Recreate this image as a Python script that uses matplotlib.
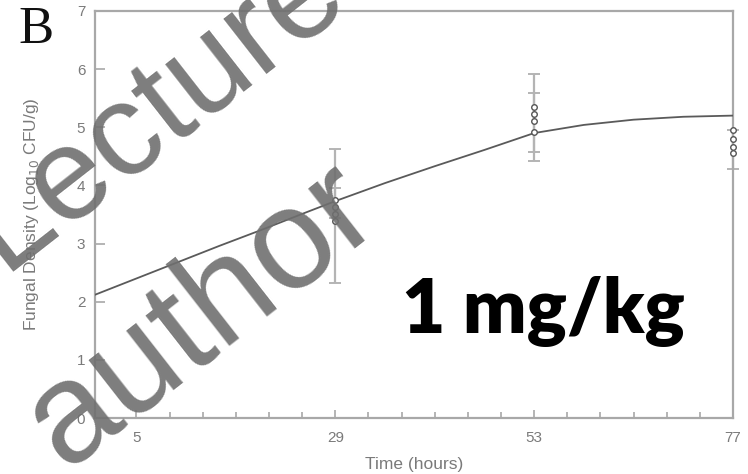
import matplotlib.pyplot as plt
from matplotlib.ticker import FixedLocator

# model fit curve (hours, log10 CFU/g)
curve_t = [0, 5, 10, 15, 20, 25, 29, 35, 41, 47, 53, 59, 65, 71, 77]
curve_y = [2.12, 2.40, 2.68, 2.96, 3.23, 3.51, 3.73, 4.04, 4.33, 4.61, 4.90, 5.04, 5.13, 5.18, 5.20]

# observed fungal density per animal
obs_t = [29, 29, 29, 29, 53, 53, 53, 53, 77, 77, 77, 77]
obs_y = [3.75, 3.63, 3.51, 3.39, 5.35, 5.22, 5.10, 4.91, 4.95, 4.80, 4.66, 4.55]

# error bars: time, mean, half-width
err_t = [29, 29, 53, 53, 77]
err_mean = [3.47, 3.70, 5.17, 5.08, 4.62]
err_sd = [1.15, 0.26, 0.75, 0.50, 0.34]

major_x = [5, 29, 53, 77]
minor_x = [9, 13, 17, 21, 25, 33, 37, 41, 45, 49, 57, 61, 65, 69, 73]
y_ticks = [0, 1, 2, 3, 4, 5, 6, 7]

axis_grey = '#a8a8a8'
label_grey = '#7a7a7a'

fig = plt.figure(figsize=(7.48, 4.74), dpi=100)
ax = fig.add_axes([0.127, 0.118, 0.853, 0.859])

ax.errorbar(err_t, err_mean, yerr=err_sd, fmt='none', ecolor='#b4b4b4',
            elinewidth=1.6, capsize=4, capthick=1.4, clip_on=False, zorder=2)
ax.plot(curve_t, curve_y, color='#5a5a5a', lw=1.3, zorder=3)
ax.plot(obs_t, obs_y, 'o', ms=4, mfc='white', mec='#555555', mew=1,
        clip_on=False, zorder=4)

ax.set_xlim(0, 77)
ax.set_ylim(0, 7)
ax.xaxis.set_major_locator(FixedLocator(major_x))
ax.xaxis.set_minor_locator(FixedLocator(minor_x))
ax.set_yticks(y_ticks)

for s in ax.spines.values():
    s.set_color(axis_grey)
    s.set_linewidth(1.6)

ax.tick_params(axis='both', which='major', direction='in', length=7, width=1.2,
               color=axis_grey, labelcolor=label_grey, labelsize=11)
ax.tick_params(axis='x', which='minor', direction='in', length=4, width=1.2,
               color=axis_grey)
ax.tick_params(axis='x', which='major', length=6, pad=9)
ax.tick_params(axis='y', which='major', pad=7, right=False)
for lbl in ax.get_xticklabels() + ax.get_yticklabels():
    lbl.set_family('Liberation Sans')

ax.set_xlabel('Time (hours)', color=label_grey, fontsize=12.5,
              family='Liberation Sans', labelpad=9)
ax.set_ylabel('Fungal Density (Log$_{10}$ CFU/g)', color=label_grey,
              fontsize=12.5, family='Liberation Sans', labelpad=26)

fig.text(0.024, 0.91, 'B', family='Liberation Serif', fontsize=38, color='#111111')
fig.text(0.537, 0.297, '1 mg/kg', family='Lato', fontweight='heavy',
         fontsize=54, color='black')

# watermark
wm = dict(family='Liberation Sans', color='#6f6f6f', alpha=0.9,
          rotation=38, rotation_mode='anchor', ha='left', va='baseline', zorder=10)
fig.text(0.007, 0.413, 'Lecture Notes', fontsize=95, **wm)
fig.text(0.087, 0.008, 'author', fontsize=103, **wm)

fig.savefig('out.png', dpi=100)
